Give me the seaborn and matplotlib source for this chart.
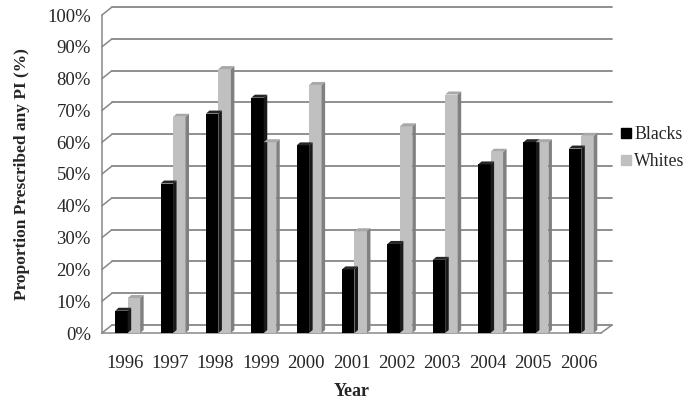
import matplotlib
matplotlib.use("Agg")
import matplotlib.pyplot as plt
import seaborn as sns
import pandas as pd
from matplotlib.patches import Polygon
from matplotlib.lines import Line2D

years = ["1996", "1997", "1998", "1999", "2000", "2001", "2002", "2003", "2004", "2005", "2006"]
blacks = [0.07, 0.47, 0.69, 0.74, 0.59, 0.20, 0.28, 0.23, 0.53, 0.60, 0.58]
whites = [0.11, 0.68, 0.83, 0.60, 0.78, 0.32, 0.65, 0.75, 0.57, 0.60, 0.62]
groups = ["Blacks", "Whites"]
yticks = [0.0, 0.1, 0.2, 0.3, 0.4, 0.5, 0.6, 0.7, 0.8, 0.9, 1.0]

df = pd.DataFrame({
    "Year": years * 2,
    "Value": blacks + whites,
    "Group": ["Blacks"] * len(years) + ["Whites"] * len(years),
})

sns.set_style("white")
plt.rcParams["font.family"] = ["Liberation Serif", "DejaVu Serif"]

fig = plt.figure(figsize=(6.9, 4.07), dpi=100)
ax = fig.add_axes([102 / 690, (407 - 333) / 407, 499 / 690, 318 / 407])

front = {"Blacks": "#000000", "Whites": "#c0c0c0"}
side = {"Blacks": "#1a1a1a", "Whites": "#808080"}
top = {"Blacks": "#262626", "Whites": "#a8a8a8"}

sns.barplot(data=df, x="Year", y="Value", hue="Group", palette=front,
            width=0.55, ax=ax, legend=False, saturation=1, linewidth=0, zorder=3)

ax.set_xlim(-0.5, 10.5)
ax.set_ylim(0, 1)

# 3D offsets (data units)
px_x = 1 / 45.4
px_y = 1 / 318
wdx, wdy = 10 * px_x, 8 * px_y       # back wall offset
bdx, bdy = 3.5 * px_x, 3 * px_y      # bar depth
shift = 3 * px_x

# back-wall gridlines and left-wall diagonals
for v in yticks:
    ax.plot([-0.5 + wdx, 10.5 + wdx + 1 * px_x], [v + wdy, v + wdy], color="#878787",
            lw=1.3, clip_on=False, zorder=1)
    ax.plot([-0.5, -0.5 + wdx], [v, v + wdy], color="#878787", lw=1.1,
            clip_on=False, zorder=1)
ax.plot([10.5, 10.5 + wdx + 1 * px_x], [0, wdy], color="#878787", lw=1.1, clip_on=False, zorder=1)

# give bars a pseudo-3D look
n = len(years)
for i, p in enumerate(ax.patches[:2 * n]):
    g = "Blacks" if i < n else "Whites"
    p.set_x(p.get_x() + shift)
    x0 = p.get_x()
    x1 = x0 + p.get_width()
    h = p.get_height()
    ax.add_patch(Polygon([(x1, 0), (x1 + bdx, bdy), (x1 + bdx, h + bdy), (x1, h)],
                         closed=True, facecolor=side[g], edgecolor="none", zorder=3))
    ax.add_patch(Polygon([(x0, h), (x1, h), (x1 + bdx, h + bdy), (x0 + bdx, h + bdy)],
                         closed=True, facecolor=top[g], edgecolor="none", zorder=3))

for s in ["top", "right"]:
    ax.spines[s].set_visible(False)
for s in ["left", "bottom"]:
    ax.spines[s].set_color("#878787")
    ax.spines[s].set_linewidth(1.1)

ax.set_yticks(yticks)
ax.set_yticklabels([f"{int(round(v * 100))}%" for v in yticks], fontsize=13.5)
ax.set_xticks(range(n))
ax.set_xticklabels(years, fontsize=13.5)
ax.set_xticks([i - 0.5 for i in range(n + 1)], minor=True)
ax.tick_params(axis="x", which="major", length=0, pad=16)
ax.tick_params(axis="x", which="minor", length=5, color="#878787", width=1.1, direction="out")
ax.tick_params(axis="y", length=5, color="#878787", width=1.1, direction="out", pad=3)
ax.grid(False)

ax.set_xlabel("Year", fontsize=13, fontweight="bold", labelpad=8)
ax.set_ylabel("Proportion Prescribed any PI (%)", fontsize=12.5, fontweight="bold", labelpad=12)

handles = [Line2D([], [], marker="s", linestyle="none", markersize=7,
                  markerfacecolor=front[g], markeredgecolor=front[g]) for g in groups]
fig.legend(handles, groups, loc="center left", bbox_to_anchor=(620 / 690, 1 - 148 / 407),
           frameon=False, fontsize=12.8, handletextpad=0.15, labelspacing=0.55,
           borderpad=0, borderaxespad=0, handlelength=0.65)

fig.savefig("out.png", dpi=100)
